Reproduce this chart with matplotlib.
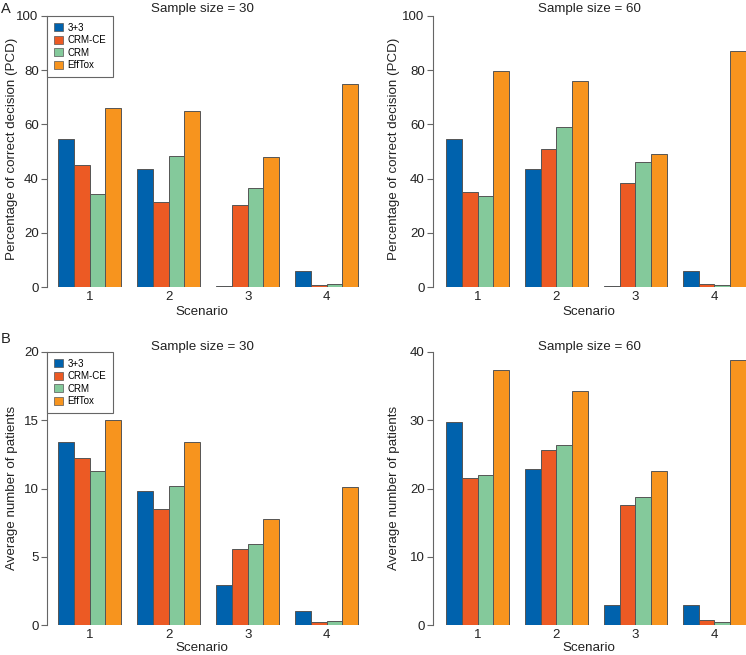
import matplotlib
matplotlib.use("Agg")
import matplotlib.pyplot as plt
import numpy as np

plt.rcParams['font.family'] = ['Liberation Sans', 'DejaVu Sans']

methods = ["3+3", "CRM-CE", "CRM", "EffTox"]
colors = ["#0062ad", "#ec5a24", "#84c99b", "#f7941e"]
scenarios = ["1", "2", "3", "4"]

# rows: methods, columns: scenarios
pcd_30 = [[54.7, 43.4, 0.4, 5.8],
          [44.9, 31.4, 30.3, 0.6],
          [34.4, 48.3, 36.7, 1.1],
          [65.9, 64.9, 47.9, 74.8]]
pcd_60 = [[54.7, 43.4, 0.4, 5.8],
          [35.1, 50.9, 38.5, 1.1],
          [33.7, 58.9, 46.0, 0.7],
          [79.8, 76.0, 49.0, 87.0]]
pts_30 = [[13.4, 9.8, 2.9, 1.0],
          [12.2, 8.5, 5.6, 0.2],
          [11.3, 10.2, 5.9, 0.3],
          [15.0, 13.4, 7.8, 10.1]]
pts_60 = [[29.8, 22.8, 2.9, 2.9],
          [21.6, 25.6, 17.6, 0.7],
          [22.0, 26.4, 18.7, 0.5],
          [37.3, 34.3, 22.6, 38.8]]

W, H = 746, 655
fig = plt.figure(figsize=(W / 100, H / 100), dpi=100)


def px_axes(left, right, top, bottom):
    return fig.add_axes([left / W, 1 - bottom / H, (right - left) / W, (bottom - top) / H])


def panel(ax, data, ymax, step, xlim, legend=False):
    for j, vals in enumerate(data):
        x = np.arange(4) * 5 + j + 1
        ax.bar(x, vals, width=1, align='edge', color=colors[j],
               edgecolor='#555555', linewidth=0.7, label=methods[j])
    ax.set_xlim(*xlim)
    ax.set_ylim(0, ymax)
    ax.set_xticks(np.arange(4) * 5 + 3)
    ax.set_xticklabels(scenarios)
    ax.set_yticks(np.arange(0, ymax + 0.1, step))
    for s in ['top', 'right', 'bottom']:
        ax.spines[s].set_visible(False)
    ax.spines['left'].set_color('#666666')
    ax.spines['left'].set_linewidth(0.8)
    ax.tick_params(axis='x', length=0, pad=3, labelsize=9.5, colors='#222222')
    ax.tick_params(axis='y', length=4, width=0.8, color='#666666', pad=2,
                   labelsize=9.5, labelcolor='#222222')
    if legend:
        leg = ax.legend(loc='upper left', bbox_to_anchor=(0, 1), borderaxespad=0,
                        fancybox=False, fontsize=7, handlelength=0.9,
                        handleheight=0.9, labelspacing=0.25, handletextpad=0.5,
                        borderpad=0.7, edgecolor='#666666', framealpha=1)
        leg.get_frame().set_linewidth(0.8)
        for h in leg.legend_handles:
            h.set_linewidth(0.5)


ax1 = px_axes(47, 372, 16, 287)
panel(ax1, pcd_30, 100, 20, (0.30, 20.87), legend=True)
ax2 = px_axes(433, 746, 16, 287)
panel(ax2, pcd_60, 100, 20, (0.18, 20.0))
ax3 = px_axes(47, 372, 352, 625)
panel(ax3, pts_30, 20, 5, (0.30, 20.87), legend=True)
ax4 = px_axes(433, 746, 352, 625)
panel(ax4, pts_60, 40, 10, (0.18, 20.0))


def ftext(x, y, s, **kw):
    fig.text(x / W, 1 - y / H, s, color='#222222', **kw)


fs = 9.6
ftext(202, 9, "Sample size = 30", ha='center', va='center', fontsize=fs)
ftext(589, 9, "Sample size = 60", ha='center', va='center', fontsize=fs)
ftext(202, 347, "Sample size = 30", ha='center', va='center', fontsize=fs)
ftext(589, 347, "Sample size = 60", ha='center', va='center', fontsize=fs)
ftext(1, 9, "A", ha='left', va='center', fontsize=10.5)
ftext(1, 339, "B", ha='left', va='center', fontsize=10.5)
ftext(12, 149, "Percentage of correct decision (PCD)", ha='center', va='center',
      rotation=90, fontsize=fs)
ftext(394, 149, "Percentage of correct decision (PCD)", ha='center', va='center',
      rotation=90, fontsize=fs)
ftext(12, 488, "Average number of patients", ha='center', va='center',
      rotation=90, fontsize=fs)
ftext(394, 488, "Average number of patients", ha='center', va='center',
      rotation=90, fontsize=fs)
ftext(202, 312, "Scenario", ha='center', va='center', fontsize=fs)
ftext(589, 312, "Scenario", ha='center', va='center', fontsize=fs)
ftext(202, 648, "Scenario", ha='center', va='center', fontsize=fs)
ftext(589, 648, "Scenario", ha='center', va='center', fontsize=fs)

fig.savefig("out.png", dpi=100)
